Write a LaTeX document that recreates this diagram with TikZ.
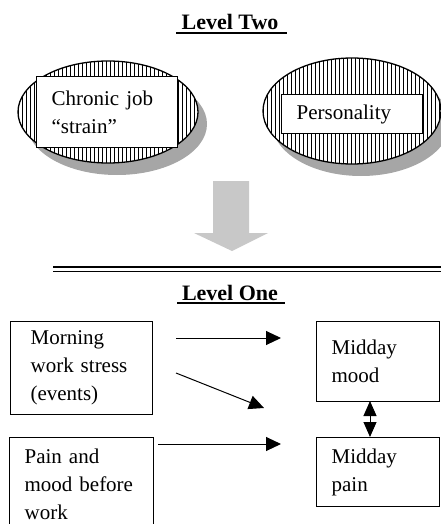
\documentclass[tikz,border=0pt]{standalone}
\usepackage{fontspec}
\setmainfont{Liberation Serif}
\usetikzlibrary{arrows.meta}
\definecolor{shadowgray}{RGB}{166,166,166}
\definecolor{bigarrow}{RGB}{200,200,200}
\tikzset{
  box/.style={draw, line width=1.2pt, fill=white, inner xsep=15pt, inner ysep=0pt,
    align=left, anchor=north west, font=\fontsize{21}{28}\selectfont},
  heading/.style={font=\bfseries\fontsize{22}{26}\selectfont, inner sep=0pt, anchor=base},
  uline/.style={line width=1.6pt},
  link/.style={-{Triangle[length=15pt,width=14pt]}, line width=1pt},
}
\begin{document}
\begin{tikzpicture}[x=1pt, y=-1pt]
  \useasboundingbox (0,0) rectangle (441,524);
  % level two
  \node[heading] (lvtwo) at (230,30) {Level Two};
  \draw[uline] (176,33) -- (287,33);
  % left ellipse
  \fill[shadowgray] (117,124) ellipse (90 and 51);
  \fill[white] (108,112) ellipse (90 and 51);
  \begin{scope}
    \clip (108,112) ellipse (90 and 51);
    \foreach \x in {18,22,...,198}
      \draw[line width=0.5pt] (\x,55) -- (\x,170);
  \end{scope}
  \draw[line width=1.3pt] (108,112) ellipse (90 and 51);
  % right ellipse
  \fill[shadowgray] (361,123) ellipse (89 and 53);
  \fill[white] (352,111) ellipse (89 and 53);
  \begin{scope}
    \clip (352,111) ellipse (89 and 53);
    \foreach \x in {263,267,...,443}
      \draw[line width=0.5pt] (\x,55) -- (\x,170);
  \end{scope}
  \draw[line width=1.3pt] (352,111) ellipse (89 and 53);
  \node[box, text width=111pt, minimum height=71pt] (chronic) at (36,76)
    {Chronic job\\“strain”};
  \node[box, text width=111pt, minimum height=39pt] (person) at (281,94)
    {Personality};
  % big gray arrow
  \fill[bigarrow] (213,181) -- (249,181) -- (249,233) -- (268,233)
    -- (232,251) -- (194,233) -- (213,233) -- cycle;
  % separator
  \draw[line width=1.5pt] (53,267) -- (445,267);
  \draw[line width=1.5pt] (53,271.5) -- (445,271.5);
  % level one
  \node[heading] (lvone) at (230,300) {Level One};
  \draw[uline] (177,303) -- (285,303);
  \node[box, inner xsep=20pt, text width=102pt, minimum height=93pt] (morning) at (10,321)
    {Morning\\work stress\\(events)};
  \node[box, text width=114pt, minimum height=94pt] (before) at (9,437)
    {Pain and\\mood before\\work};
  \node[box, text width=93pt, minimum height=80pt] (mood) at (316,321)
    {Midday\\mood};
  \node[box, text width=93pt, minimum height=69pt] (pain) at (316,437)
    {Midday\\pain};
  % arrows
  \coordinate (s1) at (176,338);
  \coordinate (e1) at (281,338);
  \coordinate (s2) at (176,373);
  \coordinate (e2) at (264,408);
  \coordinate (s3) at (158,444);
  \coordinate (e3) at (281,444);
  \coordinate (t1) at (370,401);
  \coordinate (t2) at (370,437);
  \draw[link] (s1) -- (e1);
  \draw[link] (s2) -- (e2);
  \draw[link] (s3) -- (e3);
  \draw[link, {Triangle[length=15pt,width=13pt]}-{Triangle[length=15pt,width=13pt]}] (t1) -- (t2);
\end{tikzpicture}
\end{document}
